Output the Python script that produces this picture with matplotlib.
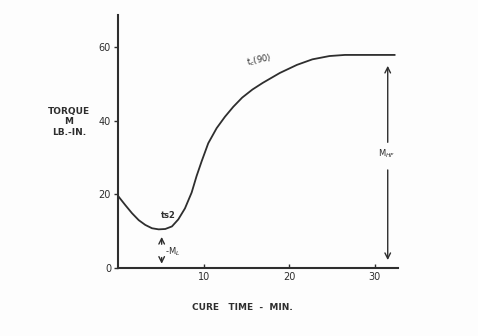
import matplotlib.pyplot as plt

# cure curve (torque vs cure time)
cure_time = [0, 0.85, 1.63, 2.42, 3.19, 3.97, 4.75, 5.52, 6.3, 7.04, 7.82,
             8.6, 9.18, 9.77, 10.54, 11.52, 12.49, 13.46, 14.5, 15.7, 16.9,
             18.9, 20.9, 22.7, 24.7, 26.5, 32.3]
torque = [19.6, 17.1, 14.9, 13.0, 11.7, 10.8, 10.5, 10.6, 11.3, 13.2, 16.2,
          20.5, 25.0, 29.0, 33.9, 38.0, 41.1, 43.8, 46.3, 48.5, 50.3,
          53.0, 55.2, 56.7, 57.6, 57.9, 57.9]
x_ticks = [10, 20, 30]
y_ticks = [0, 20, 40, 60]

ink = "#2e2e2e"

fig = plt.figure(figsize=(4.78, 3.36), dpi=100)
fig.patch.set_facecolor("#fdfdfd")
ax = fig.add_axes([118 / 478, 68 / 336, 280 / 478, 253 / 336])
ax.set_facecolor("none")

ax.plot(cure_time, torque, color=ink, lw=1.3, solid_joinstyle="round")

ax.set_xlim(0, 32.7)
ax.set_ylim(0, 68.75)
ax.set_xticks(x_ticks)
ax.set_yticks(y_ticks)
ax.tick_params(axis="x", direction="in", length=3, width=1, colors=ink,
               labelsize=7, pad=3)
ax.tick_params(axis="y", direction="out", length=3, width=1, colors=ink,
               labelsize=7, pad=2)
for s in ["top", "right"]:
    ax.spines[s].set_visible(False)
for s in ["left", "bottom"]:
    ax.spines[s].set_color(ink)
    ax.spines[s].set_linewidth(1.5)

# annotations
ax.text(5.85, 14.4, "ts2", fontsize=6, color=ink, ha="center", va="center",
        fontweight="bold")
ax.annotate("", xy=(5.1, 9.2), xytext=(5.1, 5.7),
            arrowprops=dict(arrowstyle="->", color=ink, lw=1))
ax.annotate("", xy=(5.1, 0.4), xytext=(5.1, 3.6),
            arrowprops=dict(arrowstyle="->", color=ink, lw=1))
ax.text(5.5, 4.4, "-M$_L$", fontsize=6, color=ink, ha="left", va="center")

ax.text(16.5, 56.5, "t$_c$(90)", fontsize=6, color=ink, ha="center",
        va="center", rotation=12)

ax.annotate("", xy=(31.5, 55.7), xytext=(31.5, 33.4),
            arrowprops=dict(arrowstyle="->", color=ink, lw=1))
ax.annotate("", xy=(31.5, 1.4), xytext=(31.5, 27.4),
            arrowprops=dict(arrowstyle="->", color=ink, lw=1))
ax.text(31.4, 31.0, "M$_{HF}$", fontsize=6, color=ink, ha="center",
        va="center")

# axis titles
lbl = dict(fontsize=6.5, color=ink, ha="center", va="center",
           fontweight="bold")
fig.text(69 / 478, 1 - 112 / 336, "TORQUE", **lbl)
fig.text(69 / 478, 1 - 122 / 336, "M", **lbl)
fig.text(69 / 478, 1 - 133 / 336, "LB.-IN.", **lbl)
fig.text(242 / 478, 1 - 308 / 336, "CURE   TIME  -  MIN.", **lbl)

fig.savefig("out.png", dpi=100, facecolor=fig.get_facecolor())
